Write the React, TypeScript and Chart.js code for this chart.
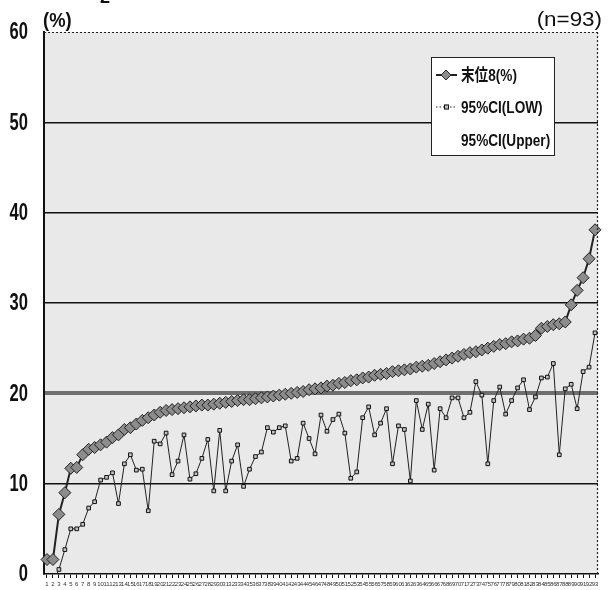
import React, { useEffect, useRef } from 'react';
import { Chart, registerables } from 'chart.js';

Chart.register(...registerables);

const categories: string[] = Array.from({ length: 93 }, (_, i) => String(i + 1));

const mainLabel = '末位8(%)';
const lowLabel = '95%CI(LOW)';
const upperLabel = '95%CI(Upper)';

const mainValues: number[] = [
  1.6, 1.6, 6.6, 9.0, 11.7, 11.8, 13.2, 13.8, 14.0, 14.3,
  14.6, 15.1, 15.4, 16.0, 16.2, 16.6, 17.0, 17.3, 17.6, 17.9,
  18.1, 18.2, 18.3, 18.4, 18.5, 18.6, 18.7, 18.7, 18.8, 18.9,
  19.0, 19.1, 19.2, 19.3, 19.3, 19.4, 19.5, 19.6, 19.7, 19.8,
  19.9, 20.0, 20.1, 20.2, 20.4, 20.5, 20.6, 20.8, 20.9, 21.1,
  21.2, 21.4, 21.5, 21.7, 21.8, 22.0, 22.1, 22.2, 22.4, 22.5,
  22.6, 22.7, 22.9, 23.0, 23.1, 23.3, 23.5, 23.7, 23.9, 24.1,
  24.3, 24.5, 24.6, 24.8, 25.0, 25.2, 25.4, 25.5, 25.7, 25.8,
  26.0, 26.1, 26.4, 27.2, 27.4, 27.6, 27.7, 27.9, 29.8, 31.4,
  32.8, 34.9, 38.1,
];

const lowValues: (number | null)[] = [
  null, -1.0, 0.5, 2.7, 5.0, 5.0, 5.5, 7.3, 8.0, 10.4,
  10.7, 11.2, 7.8, 12.2, 13.2, 11.5, 11.6, 7.0, 14.7, 14.4,
  15.6, 11.0, 12.5, 15.4, 10.5, 11.1, 12.8, 14.9, 9.2, 15.9,
  9.2, 12.5, 14.3, 9.7, 11.6, 13.0, 13.5, 16.2, 15.7, 16.2,
  16.4, 12.5, 12.8, 16.7, 15.0, 13.3, 17.6, 15.8, 17.1, 17.7,
  15.6, 10.6, 11.3, 17.3, 18.5, 15.4, 16.7, 18.3, 12.2, 16.4,
  16.0, 10.3, 19.2, 16.0, 18.8, 11.5, 18.3, 17.3, 19.5, 19.5,
  17.3, 17.9, 21.3, 19.8, 12.2, 19.2, 20.7, 17.7, 19.2, 20.6,
  21.5, 18.2, 19.6, 21.7, 21.8, 23.3, 13.2, 20.5, 21.0, 18.3,
  22.4, 22.9, 26.7,
];

// Upper CI is not drawn in the reference (legend entry only)
const upperValues: (number | null)[] = [];

const yMin = 0;
const yMax = 60;
const yStep = 10;

const SANS = "'Liberation Sans', Arial, sans-serif";
const JP = "'Liberation Sans', 'Noto Sans CJK JP', sans-serif";

function squeezedText(ctx: any, text: string, x: number, y: number, sx: number) {
  ctx.save();
  ctx.translate(x, y);
  ctx.scale(sx, 1);
  ctx.fillText(text, 0, 0);
  ctx.restore();
}

const decorPlugin = {
  id: 'decor',
  beforeDraw(chart: any) {
    const { ctx, chartArea } = chart;
    const { left, top, right, bottom } = chartArea;
    ctx.save();
    ctx.fillStyle = '#e9e9e9';
    ctx.fillRect(left, top, right - left, bottom - top);
    ctx.restore();
  },
  afterDraw(chart: any) {
    const { ctx, chartArea } = chart;
    const { left, top, right, bottom } = chartArea;
    ctx.save();
    // dotted top and right frame
    ctx.strokeStyle = '#222';
    ctx.lineWidth = 1.2;
    ctx.setLineDash([2, 2]);
    ctx.beginPath();
    ctx.moveTo(left, top + 0.5);
    ctx.lineTo(right, top + 0.5);
    ctx.moveTo(right - 0.5, top);
    ctx.lineTo(right - 0.5, bottom);
    ctx.stroke();
    ctx.setLineDash([]);

    // y tick labels (condensed bold), positioned by the library's y scale
    const ys = chart.scales.y;
    ctx.fillStyle = '#111';
    ctx.textBaseline = 'middle';
    ctx.textAlign = 'right';
    ctx.font = `bold 23px ${SANS}`;
    ys.ticks.forEach((t: any) => {
      const py = ys.getPixelForValue(t.value);
      squeezedText(ctx, String(t.value), 28, py + 1, 0.72);
    });

    // titles
    ctx.textBaseline = 'top';
    ctx.textAlign = 'left';
    ctx.font = `bold 20px ${SANS}`;
    squeezedText(ctx, '(%)', left - 1, 11, 0.92);
    ctx.textAlign = 'right';
    ctx.font = `20px ${SANS}`;
    squeezedText(ctx, '(n=93)', 602, 10, 1.12);
    ctx.textAlign = 'left';
    ctx.textBaseline = 'alphabetic';
    ctx.font = `bold 18px ${SANS}`;
    ctx.fillText('2', 100, 3);

    // legend box
    const bx = 431, by = 57, bw = 123, bh = 98;
    ctx.fillStyle = '#ffffff';
    ctx.fillRect(bx, by, bw, bh);
    ctx.strokeStyle = '#222';
    ctx.lineWidth = 1;
    ctx.strokeRect(bx + 0.5, by + 0.5, bw, bh);

    const ds = chart.data.datasets;
    const rows = [75, 107, 140];
    ctx.font = `bold 17px ${JP}`;
    ctx.textBaseline = 'middle';
    ctx.textAlign = 'left';
    ds.forEach((d: any, i: number) => {
      const y = rows[i];
      if (i === 0) {
        ctx.strokeStyle = '#222';
        ctx.lineWidth = 2;
        ctx.beginPath();
        ctx.moveTo(436, y);
        ctx.lineTo(457, y);
        ctx.stroke();
        ctx.fillStyle = d.pointBackgroundColor;
        ctx.strokeStyle = d.pointBorderColor;
        ctx.lineWidth = 1;
        ctx.beginPath();
        ctx.moveTo(446, y - 5);
        ctx.lineTo(451, y);
        ctx.lineTo(446, y + 5);
        ctx.lineTo(441, y);
        ctx.closePath();
        ctx.fill();
        ctx.stroke();
      } else if (i === 1) {
        ctx.strokeStyle = '#222';
        ctx.lineWidth = 1;
        ctx.setLineDash([1.5, 2]);
        ctx.beginPath();
        ctx.moveTo(436, y);
        ctx.lineTo(457, y);
        ctx.stroke();
        ctx.setLineDash([]);
        ctx.fillStyle = d.pointBackgroundColor;
        ctx.strokeStyle = d.pointBorderColor;
        ctx.fillRect(444, y - 2.5, 5, 5);
        ctx.strokeRect(444.5, y - 2, 4, 4);
      }
      ctx.fillStyle = '#111';
      squeezedText(ctx, d.label, 461, y + 1, 0.8);
    });
    ctx.restore();
  },
};

export default function App() {
  const canvasRef = useRef<HTMLCanvasElement | null>(null);

  useEffect(() => {
    if (!canvasRef.current) return;
    const chart = new Chart(canvasRef.current, {
      type: 'line',
      data: {
        labels: categories,
        datasets: [
          {
            label: mainLabel,
            data: mainValues,
            borderColor: '#222',
            borderWidth: 2,
            pointStyle: 'rectRot',
            pointRadius: 6,
            pointBackgroundColor: '#8c8c8c',
            pointBorderColor: '#222',
            pointBorderWidth: 1,
            tension: 0,
            order: 1,
          },
          {
            label: lowLabel,
            data: lowValues,
            borderColor: '#222',
            borderWidth: 1,
            pointStyle: 'rect',
            pointRadius: 2.6,
            pointBackgroundColor: '#c4c4c4',
            pointBorderColor: '#111',
            pointBorderWidth: 1,
            tension: 0,
            spanGaps: false,
            order: 2,
          },
          {
            label: upperLabel,
            data: upperValues,
            borderColor: 'rgba(0,0,0,0)',
            borderWidth: 0,
            pointRadius: 0,
            order: 3,
          },
        ],
      },
      options: {
        animation: false,
        responsive: false,
        devicePixelRatio: 1,
        layout: { padding: { left: 0, right: 12, top: 32, bottom: 0 } },
        plugins: {
          legend: { display: false },
          tooltip: { enabled: false },
          title: { display: false },
        },
        scales: {
          x: {
            type: 'category',
            offset: true,
            grid: {
              display: true,
              drawOnChartArea: false,
              drawTicks: true,
              tickLength: 4,
              tickColor: '#111',
              tickWidth: 1,
              offset: false,
            },
            border: { display: true, color: '#111', width: 1.5 },
            ticks: {
              autoSkip: false,
              maxRotation: 0,
              minRotation: 0,
              padding: 3,
              color: '#333',
              font: { size: 6, family: SANS },
            },
            afterFit(scale: any) {
              scale.height = 16;
            },
          },
          y: {
            min: yMin,
            max: yMax,
            ticks: {
              stepSize: yStep,
              display: false,
            },
            grid: {
              drawTicks: false,
              color: (c: any) => {
                const v = c.tick && c.tick.value;
                if (v === 0 || v === 60) return 'rgba(0,0,0,0)';
                if (v === 20) return '#6f6f6f';
                return '#111';
              },
              lineWidth: (c: any) => (c.tick && c.tick.value === 20 ? 4 : 1.5),
            },
            border: { display: true, color: '#111', width: 2 },
            afterFit(scale: any) {
              scale.width = 44;
            },
          },
        },
      },
      plugins: [decorPlugin],
    } as any);
    return () => chart.destroy();
  }, []);

  return (
    <div style={{ position: 'absolute', left: 0, top: 0, width: 610, height: 590, background: '#fff' }}>
      <canvas ref={canvasRef} width={610} height={590} style={{ display: 'block' }} />
    </div>
  );
}
